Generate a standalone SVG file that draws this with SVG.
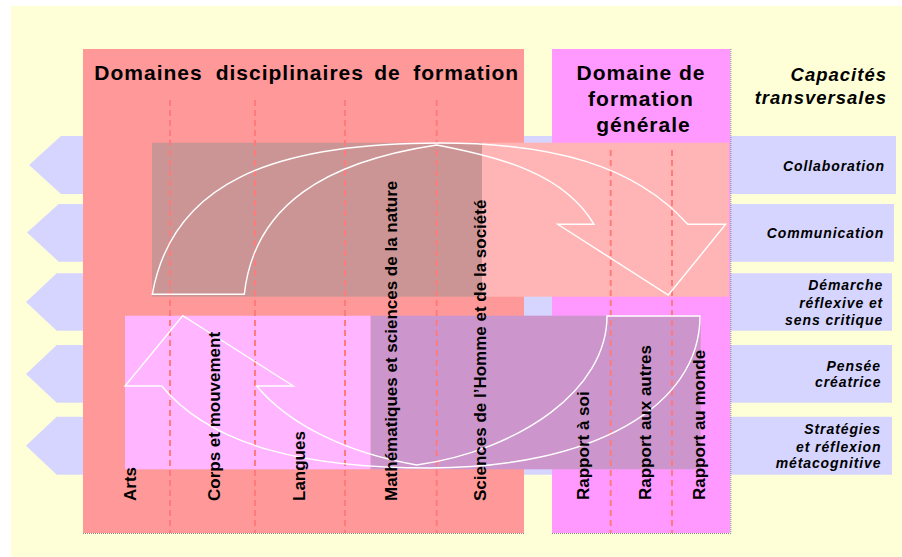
<svg xmlns="http://www.w3.org/2000/svg" width="902" height="557" viewBox="0 0 902 557">
<style>
.lav{fill:#D5D5FF}
.dash{stroke:#FF7B7B;stroke-width:2;stroke-dasharray:6 4;fill:none}
.arrow{fill:none;stroke:#FFFFFF;stroke-width:1.4;stroke-linejoin:miter}
.title{font-family:"Liberation Sans",Arial,sans-serif;font-weight:bold;font-size:21px;letter-spacing:1px;fill:#000}
.cap{font-family:"Liberation Sans",Arial,sans-serif;font-weight:bold;font-style:italic;font-size:18.5px;letter-spacing:1px;fill:#000;text-anchor:end}
.lbl{font-family:"Liberation Sans",Arial,sans-serif;font-weight:bold;font-style:italic;font-size:14px;letter-spacing:0.9px;fill:#000;text-anchor:end}
.vt{font-family:"Liberation Sans",Arial,sans-serif;font-weight:bold;font-size:17px;fill:#000}
.shadow{stroke:#888;stroke-width:1;stroke-dasharray:1 1;fill:none}
</style>
<rect x="11" y="6" width="891" height="551" fill="#FFFFD7"/>

<g id="bands">
<polygon class="lav" points="29,165 61,136 896,136 896,194 61,194"/>
<polygon class="lav" points="27,232.5 58.7,204 894,204 894,261.7 58.7,261.7"/>
<polygon class="lav" points="26,302 56.7,273.3 892,273.3 892,330.7 56.7,330.7"/>
<polygon class="lav" points="26,374 56.7,345 892,345 892,402.7 56.7,402.7"/>
<polygon class="lav" points="26,445.7 56.7,416.7 892,416.7 892,474.7 56.7,474.7"/>
</g>

<g id="domaines-disciplinaires">
<rect x="83" y="49" width="441" height="484" fill="#FF9999"/>
<text class="title" y="80"><tspan x="94.3">Domaines</tspan><tspan x="215.7">disciplinaires</tspan><tspan x="374.3">de</tspan><tspan x="413.3">formation</tspan></text>
</g>

<g id="domaine-formation-generale">
<rect x="552" y="49" width="178.3" height="484" fill="#FF99FF"/>
<text class="title" text-anchor="middle"><tspan x="641" y="80">Domaine de</tspan><tspan x="641" y="106">formation</tspan><tspan x="643.5" y="132.3">générale</tspan></text>
</g>

<line class="shadow" x1="730.8" y1="49" x2="730.8" y2="533.5"/>
<line class="shadow" x1="83" y1="533.5" x2="524" y2="533.5"/>
<line class="shadow" x1="552" y1="533.5" x2="730.8" y2="533.5"/>

<g id="overlays">
<rect x="152" y="142.7" width="330" height="154" fill="#CC9595"/>
<rect x="482" y="142.7" width="247" height="154" fill="#FFB5B5"/>
<rect x="125" y="315.7" width="245.7" height="153.6" fill="#FFB5FF"/>
<rect x="370.7" y="315.7" width="330" height="153.6" fill="#CC95CC"/>
</g>

<g id="separators">
<line class="dash" x1="170" y1="100" x2="170" y2="533"/>
<line class="dash" x1="255" y1="100" x2="255" y2="533"/>
<line class="dash" x1="345" y1="100" x2="345" y2="533"/>
<line class="dash" x1="436.7" y1="100" x2="436.7" y2="533"/>
<line class="dash" x1="610.7" y1="150" x2="610.7" y2="533"/>
<line class="dash" x1="672" y1="150" x2="672" y2="533"/>
</g>

<g id="connectors">
<path id="arrow-down" class="arrow" d="M152.3,294.3 C172,184 270,143 440,143 C550,143 634,164.3 687.7,224.3 L725.7,224.3 L668.3,295 L557.7,224.3 L594,224.3 C564,173.3 500,157 436.7,145 C326.7,161.5 254.2,204.3 244.3,294.3 Z"/>
<path id="arrow-up" class="arrow" d="M161.7,386 L125,386 L182.7,315.7 L293.3,386 L256.7,386 C288.7,424.5 346.7,453.1 416.7,465 C520,450 607,390 607,316 L700,316 C700,407 592,468 430,468 C310,468 212.9,447.6 161.7,386 Z"/>
</g>

<g id="labels-disciplines">
<text class="vt" transform="translate(135.5,501) rotate(-90)">Arts</text>
<text class="vt" transform="translate(219.5,501) rotate(-90)">Corps et mouvement</text>
<text class="vt" transform="translate(304.5,501) rotate(-90)">Langues</text>
<text class="vt" transform="translate(397.2,501) rotate(-90)">Mathématiques et sciences de la nature</text>
<text class="vt" transform="translate(486.2,501) rotate(-90)">Sciences de l’Homme et de la société</text>
<text class="vt" transform="translate(588.9,500) rotate(-90)">Rapport à soi</text>
<text class="vt" transform="translate(651.2,500) rotate(-90)">Rapport aux autres</text>
<text class="vt" transform="translate(704.9,500) rotate(-90)">Rapport au monde</text>
</g>

<g id="capacites">
<text class="cap"><tspan x="887" y="81">Capacités</tspan><tspan x="887" y="104">transversales</tspan></text>
</g>
<g id="cap-collaboration"><text class="lbl" x="885" y="171">Collaboration</text></g>
<g id="cap-communication"><text class="lbl" x="884.2" y="238">Communication</text></g>
<g id="cap-demarche"><text class="lbl"><tspan x="883.2" y="290">Démarche</tspan><tspan x="883.2" y="307.7">réflexive et</tspan><tspan x="883.2" y="325">sens critique</tspan></text></g>
<g id="cap-pensee"><text class="lbl"><tspan x="881" y="370.7">Pensée</tspan><tspan x="881.5" y="387.3">créatrice</tspan></text></g>
<g id="cap-strategies"><text class="lbl"><tspan x="881" y="434.3">Stratégies</tspan><tspan x="881.5" y="451.7">et réflexion</tspan><tspan x="881.5" y="468.3">métacognitive</tspan></text></g>
</svg>
